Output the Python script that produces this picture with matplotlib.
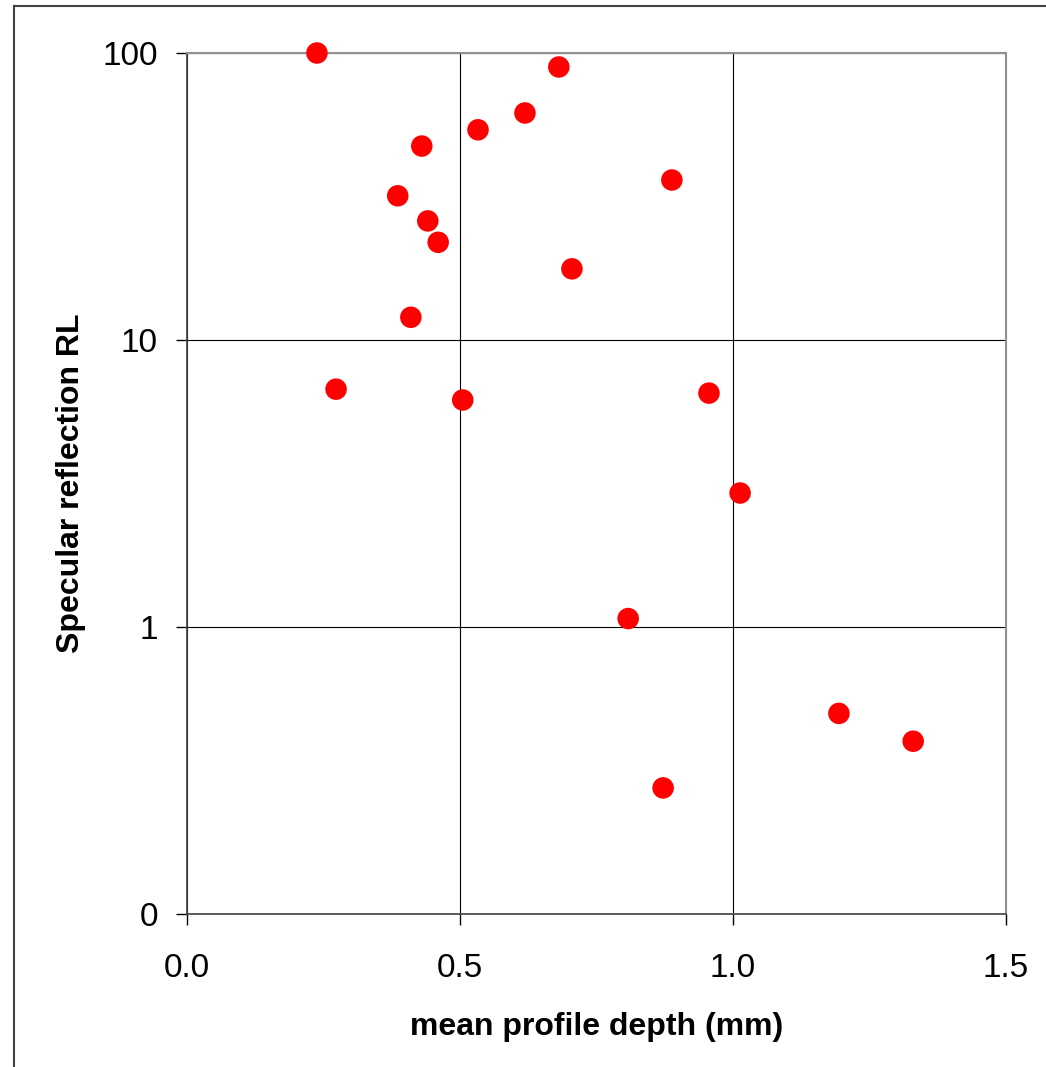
import matplotlib.pyplot as plt
from matplotlib.lines import Line2D
from matplotlib.ticker import FixedLocator, FuncFormatter, NullLocator

plt.rcParams['font.family'] = ['Liberation Sans', 'DejaVu Sans']

# mean profile depth (mm) vs specular reflection RL
depth = [0.238, 0.681, 0.619, 0.533, 0.430, 0.888, 0.386, 0.441, 0.460, 0.705,
         0.410, 0.273, 0.505, 0.956, 1.013, 0.808, 1.194, 1.330, 0.872]
reflection = [100.0, 89.4, 61.8, 54.0, 47.4, 36.1, 31.8, 26.0, 21.9, 17.7,
              12.0, 6.74, 6.18, 6.53, 2.93, 1.07, 0.50, 0.40, 0.275]

x_ticks = [0.0, 0.5, 1.0, 1.5]
y_ticks = [0.1, 1, 10, 100]
y_tick_labels = ['0', '1', '10', '100']

fig = plt.figure(figsize=(10.46, 10.67), dpi=100)
ax = fig.add_axes([187 / 1046, 1 - 914 / 1067, 819 / 1046, 861 / 1067])

ax.scatter(depth, reflection, s=240, color='#ff0000', edgecolors='none', zorder=3, clip_on=False)

ax.set_yscale('log')
ax.set_xlim(0, 1.5)
ax.set_ylim(0.1, 100)
ax.xaxis.set_major_locator(FixedLocator(x_ticks))
ax.xaxis.set_major_formatter(FuncFormatter(lambda v, p: f'{v:.1f}'))
ax.yaxis.set_major_locator(FixedLocator(y_ticks))
ax.yaxis.set_major_formatter(FuncFormatter(lambda v, p: y_tick_labels[y_ticks.index(min(y_ticks, key=lambda t: abs(t - v)))]))
ax.yaxis.set_minor_locator(NullLocator())

ax.grid(True, color='black', linewidth=0.8)
ax.set_axisbelow(True)
ax.tick_params(axis='both', direction='out', length=8, width=1, labelsize=24, colors='black')
ax.tick_params(axis='y', pad=13)
ax.tick_params(axis='x', pad=20)

for side in ['left', 'bottom']:
    ax.spines[side].set_color('#404040')
    ax.spines[side].set_linewidth(1.2)
for side in ['top', 'right']:
    ax.spines[side].set_color('#909090')
    ax.spines[side].set_linewidth(1.5)

ax.set_xlabel('mean profile depth (mm)', fontsize=23, fontweight='bold', labelpad=20)
ax.set_ylabel('Specular reflection RL', fontsize=23, fontweight='bold', labelpad=12)

# outer chart border (left and top visible)
fig.add_artist(Line2D([14 / 1046, 14 / 1046], [0, 1 - 6 / 1067], transform=fig.transFigure,
                      color='#404040', linewidth=1.5))
fig.add_artist(Line2D([14 / 1046, 1], [1 - 6 / 1067, 1 - 6 / 1067], transform=fig.transFigure,
                      color='#404040', linewidth=1.5))

fig.savefig('out.png', dpi=100)
